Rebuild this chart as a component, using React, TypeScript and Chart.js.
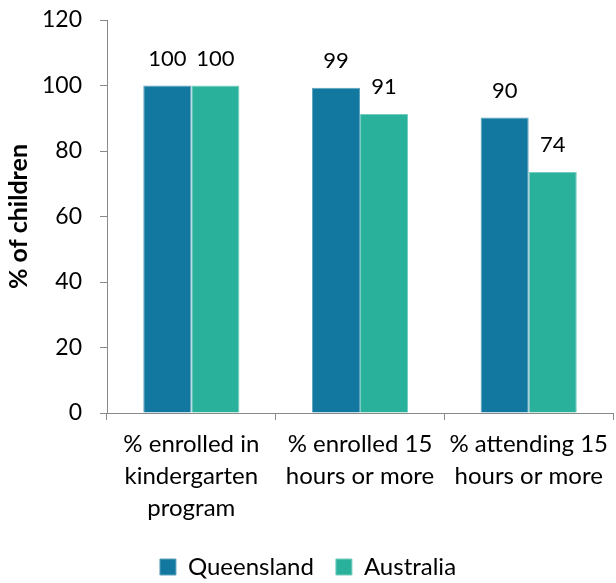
import React, { useEffect, useRef } from "react";
import { Chart, registerables } from "chart.js";

Chart.register(...registerables);

const categories: string[][] = [
  ["% enrolled in", "kindergarten", "program"],
  ["% enrolled 15", "hours or more"],
  ["% attending 15", "hours or more"],
];
const queensland: number[] = [100, 99.3, 90.2];
const australia: number[] = [100, 91.3, 73.6];
const queenslandLabels: string[] = ["100", "99", "90"];
const australiaLabels: string[] = ["100", "91", "74"];
const seriesNames: string[] = ["Queensland", "Australia"];
const yTicks = { min: 0, max: 120, step: 20 };

const FONT = "Lato, 'Open Sans', sans-serif";

const labelPlugin = {
  id: "barLabels",
  afterDatasetsDraw(chart: any) {
    const ctx = chart.ctx;
    const texts = [queenslandLabels, australiaLabels];
    ctx.save();
    ctx.font = `22px ${FONT}`;
    ctx.fillStyle = "#000";
    ctx.textAlign = "center";
    ctx.textBaseline = "middle";
    chart.data.datasets.forEach((_: any, di: number) => {
      const meta = chart.getDatasetMeta(di);
      meta.data.forEach((bar: any, i: number) => {
        ctx.fillText(texts[di][i], bar.x, bar.y - 27);
      });
    });
    ctx.restore();
  },
};

export default function App() {
  const ref = useRef<HTMLCanvasElement>(null);
  useEffect(() => {
    if (!ref.current) return;
    const chart = new Chart(ref.current, {
      type: "bar",
      data: {
        labels: categories,
        datasets: [
          {
            label: seriesNames[0],
            data: queensland,
            backgroundColor: "#13789F",
            borderColor: "#5EA3BE",
            borderWidth: 1,
            categoryPercentage: 0.57,
            barPercentage: 1,
          },
          {
            label: seriesNames[1],
            data: australia,
            backgroundColor: "#2AB19C",
            borderColor: "#74CDBF",
            borderWidth: 1,
            categoryPercentage: 0.57,
            barPercentage: 1,
          },
        ],
      },
      options: {
        responsive: false,
        animation: false,
        layout: { padding: { top: 20, left: 0, right: 0, bottom: 0 } },
        plugins: {
          tooltip: { enabled: false },
          legend: {
            position: "bottom",
            maxHeight: 50,
            labels: {
              boxWidth: 16,
              boxHeight: 16,
              padding: 22,
              color: "#000",
              font: { family: FONT, size: 24 },
            },
          },
        },
        scales: {
          x: {
            afterFit: (s: any) => {
              s.height = 120;
            },
            grid: {
              display: true,
              drawOnChartArea: false,
              drawTicks: true,
              tickLength: 7,
              color: "#898989",
              offset: true,
            },
            border: { display: true, color: "#898989", width: 1 },
            ticks: {
              color: "#000",
              padding: 8,
              maxRotation: 0,
              autoSkip: false,
              font: { family: FONT, size: 24, lineHeight: 1.33 },
            },
          },
          y: {
            min: yTicks.min,
            max: yTicks.max,
            afterFit: (s: any) => {
              s.width = 107;
              s.paddingTop = 0;
              s.paddingBottom = 0;
            },
            grid: {
              display: true,
              drawOnChartArea: false,
              drawTicks: true,
              tickLength: 7,
              color: "#898989",
            },
            border: { display: true, color: "#898989", width: 1 },
            ticks: {
              stepSize: yTicks.step,
              color: "#000",
              padding: 18,
              font: { family: FONT, size: 23 },
            },
            title: {
              display: true,
              text: "% of children",
              color: "#000",
              padding: { top: 4, bottom: 0 },
              font: { family: FONT, size: 25, weight: "bold" },
            },
          },
        },
      },
      plugins: [labelPlugin],
    });
    return () => chart.destroy();
  }, []);
  return (
    <div style={{ position: "absolute", left: 0, top: 0, width: 616, height: 583 }}>
      <canvas ref={ref} width={616} height={583} style={{ display: "block" }} />
    </div>
  );
}
